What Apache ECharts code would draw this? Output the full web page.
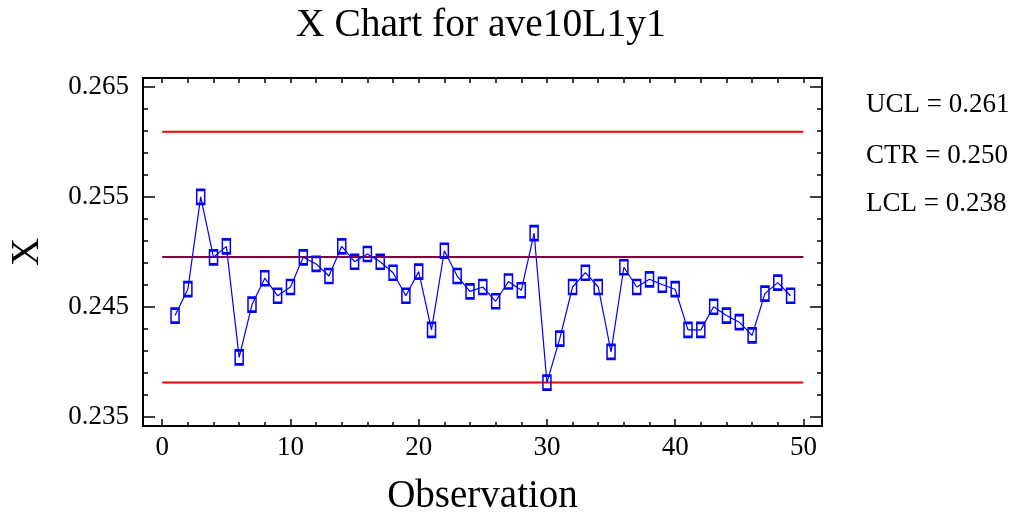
<!DOCTYPE html>
<html>
<head>
<meta charset="utf-8">
<script src="https://cdn.jsdelivr.net/npm/echarts@6/dist/echarts.min.js"></script>
<style>
  html, body { margin: 0; padding: 0; background: #fff; }
  #chart { width: 1020px; height: 521px; }
</style>
</head>
<body>
<div id="chart"></div>
<script>
// Observation numbers and subgroup averages
const observations = [1, 2, 3, 4, 5, 6, 7, 8, 9, 10, 11, 12, 13, 14, 15, 16, 17, 18, 19, 20,
  21, 22, 23, 24, 25, 26, 27, 28, 29, 30, 31, 32, 33, 34, 35, 36, 37, 38, 39, 40,
  41, 42, 43, 44, 45, 46, 47, 48, 49];
const averages = [0.2442, 0.2466, 0.2550, 0.2495, 0.2505, 0.2404, 0.2452, 0.2476, 0.2460, 0.2468,
  0.2495, 0.2489, 0.2478, 0.2505, 0.2491, 0.2498, 0.2491, 0.2481, 0.2460, 0.2482,
  0.2429, 0.2501, 0.2478, 0.2464, 0.2468, 0.2455, 0.2473, 0.2465, 0.2517, 0.2381,
  0.2421, 0.2468, 0.2481, 0.2468, 0.2409, 0.2486, 0.2468, 0.2475, 0.2470, 0.2466,
  0.2429, 0.2429, 0.2450, 0.2442, 0.2436, 0.2424, 0.2462, 0.2472, 0.2460];

// Control limits
const UCL = 0.26092;
const CTR = 0.24952;
const LCL = 0.23812;
const limitSpan = [0, 50];

// Tick positions
const xMajorTicks = [0, 10, 20, 30, 40, 50];
const xMinorTicks = [2, 4, 6, 8, 12, 14, 16, 18, 22, 24, 26, 28, 32, 34, 36, 38, 42, 44, 46, 48];
const yMajorTicks = [0.235, 0.245, 0.255, 0.265];
const yMinorTicks = [0.237, 0.239, 0.241, 0.243, 0.247, 0.249, 0.251, 0.253, 0.257, 0.259, 0.261, 0.263];

const FONT = '"Liberation Serif", "Times New Roman", serif';
const X_MIN = -1.5, X_MAX = 51.45;
const Y_MIN = 0.23415, Y_MAX = 0.26582;

const frameLine = { show: true, onZero: false, lineStyle: { color: '#000', width: 2 } };
const noLine = { show: false, onZero: false };

function xAxisDef(position, ticks, tickLen, labels, extra) {
  return Object.assign({
    type: 'value', position: position, min: X_MIN, max: X_MAX,
    axisLine: extra && extra.line === false ? noLine : frameLine,
    axisTick: { show: true, inside: true, length: tickLen, customValues: ticks,
      lineStyle: { color: '#000', width: 1.5 } },
    axisLabel: labels ? { show: true, customValues: labels, margin: 8,
      fontFamily: FONT, fontSize: 27, color: '#000' } : { show: false },
    splitLine: { show: false }
  }, extra && extra.more || {});
}
function yAxisDef(position, ticks, tickLen, labels, extra) {
  return Object.assign({
    type: 'value', position: position, min: Y_MIN, max: Y_MAX,
    axisLine: extra && extra.line === false ? noLine : frameLine,
    axisTick: { show: true, inside: true, length: tickLen, customValues: ticks,
      lineStyle: { color: '#000', width: 1.5 } },
    axisLabel: labels ? { show: true, customValues: labels, margin: 14,
      fontFamily: FONT, fontSize: 27, color: '#000',
      formatter: v => v.toFixed(3) } : { show: false },
    splitLine: { show: false }
  }, extra && extra.more || {});
}

const limitLine = value => limitSpan.map(x => [x, value]);

const chart = echarts.init(document.getElementById('chart'), null, { renderer: 'canvas' });
chart.setOption({
  animation: false,
  backgroundColor: '#ffffff',
  grid: { left: 143, right: 198, top: 78, bottom: 95 },
  xAxis: [
    xAxisDef('bottom', xMajorTicks, 7, xMajorTicks, { more: {
      name: 'Observation', nameLocation: 'middle', nameGap: 51,
      nameTextStyle: { fontFamily: FONT, fontSize: 39, color: '#000' } } }),
    xAxisDef('bottom', xMinorTicks, 4, null, { line: false }),
    xAxisDef('top', xMajorTicks.concat(xMinorTicks), 5, null)
  ],
  yAxis: [
    yAxisDef('left', yMajorTicks, 12, yMajorTicks, { more: {
      name: 'X', nameLocation: 'middle', nameGap: 96,
      nameTextStyle: { fontFamily: FONT, fontSize: 39, color: '#000' } } }),
    yAxisDef('left', yMinorTicks, 5, null, { line: false }),
    yAxisDef('right', yMajorTicks, 12, null),
    yAxisDef('right', yMinorTicks, 5, null, { line: false })
  ],
  graphic: [
    { type: 'text', left: 482 - 186, top: 6,
      style: { text: 'X Chart for ave10L1y1', font: '39.5px ' + FONT, fill: '#000' } },
    { type: 'text', left: 866, top: 91,
      style: { text: 'UCL = ' + UCL.toFixed(3), font: '27px ' + FONT, fill: '#000' } },
    { type: 'text', left: 866, top: 142,
      style: { text: 'CTR = ' + CTR.toFixed(3), font: '27px ' + FONT, fill: '#000' } },
    { type: 'text', left: 866, top: 190,
      style: { text: 'LCL = ' + LCL.toFixed(3), font: '27px ' + FONT, fill: '#000' } }
  ],
  series: [
    { name: 'UCL', type: 'line', data: limitLine(UCL), symbol: 'none', silent: true,
      lineStyle: { color: '#ff0000', width: 2 }, z: 2 },
    { name: 'LCL', type: 'line', data: limitLine(LCL), symbol: 'none', silent: true,
      lineStyle: { color: '#ff0000', width: 2 }, z: 2 },
    { name: 'CTR', type: 'line', data: limitLine(CTR), symbol: 'none', silent: true,
      lineStyle: { color: '#800040', width: 2 }, z: 2 },
    { name: 'X', type: 'line', z: 3,
      data: observations.map((o, i) => [o, averages[i]]),
      symbol: 'rect', symbolSize: [8, 14], showAllSymbol: true,
      lineStyle: { color: '#0000ff', width: 1.2 },
      itemStyle: { color: 'rgba(0,0,0,0)', borderColor: '#0000ff', borderWidth: 2 } }
  ]
});
</script>
</body>
</html>
